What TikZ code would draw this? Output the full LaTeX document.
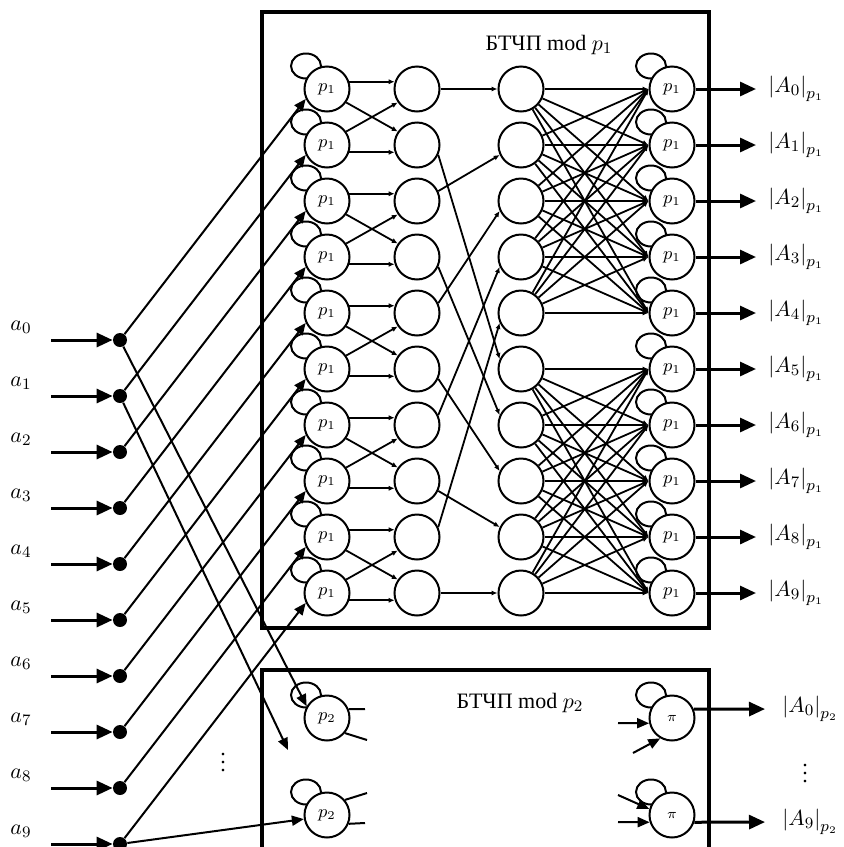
\documentclass[tikz,border=0pt]{standalone}
\usepackage{fontspec}
\setmainfont{Liberation Serif}
\usetikzlibrary{arrows.meta,positioning,calc}
\tikzset{
  unit/.style={circle, draw, line width=1pt, fill=white, inner sep=0pt, minimum size=22.5pt, font=\fontsize{9}{9}\selectfont},
  loopring/.style={line width=1pt},
  dot/.style={circle, fill=black, inner sep=0pt, minimum size=7pt},
  wire/.style={line width=0.9pt, -{Latex[length=3pt,width=2.6pt]}},
  feed/.style={line width=1pt, -{Triangle[length=6pt,width=5pt]}},
  bigarrow/.style={line width=1.5pt, -{Triangle[length=8pt,width=7pt]}},
  stub/.style={line width=1pt},
  frame/.style={line width=1.6pt},
  lbl/.style={font=\fontsize{11}{13}\selectfont, inner sep=0pt},
}
\newcommand{\ring}[2]{\draw[loopring] (#1-21,#2-23) ellipse [x radius=7.5pt, y radius=6.25pt];}

\begin{document}
\begin{tikzpicture}[x=0.5pt, y=-0.5pt]
  \useasboundingbox (0,0) rectangle (843,847);
  % blocks
  \draw[frame] (262,12) rectangle (709,628);
  \draw[frame] (262,860) -- (262,670) -- (709,670) -- (709,860);
  \node[lbl] (title1) at (549,45) {БТЧП mod $p_1$};
  \node[lbl] (title2) at (520,703) {БТЧП mod $p_2$};
  % block p1
  \foreach \i in {0,...,9}{
    \pgfmathsetmacro{\yy}{89+56*\i}
    \ring{327}{\yy}
    \ring{672}{\yy}
    \node[unit] (p-\i) at (327,\yy) {$p_1$};
    \node[unit] (h-\i) at (417,\yy) {};
    \node[unit] (g-\i) at (521,\yy) {};
    \node[unit] (q-\i) at (672,\yy) {$p_1$};
  }
  \foreach \i in {0,2,...,8}{
    \pgfmathtruncatemacro{\k}{\i+1}
    \draw[wire] (p-\i.18) -- (h-\i.162);
    \draw[wire] (p-\k.-18) -- (h-\k.198);
    \draw[wire] (p-\i.-35) -- (h-\k.145);
    \draw[wire] (p-\k.35) -- (h-\i.215);
  }
  \draw[wire] (h-0) -- (g-0);
  \draw[wire] (h-9) -- (g-9);
  \foreach \i in {2,4,6,8}{
    \pgfmathtruncatemacro{\j}{\i/2}
    \draw[wire] (h-\i.25) -- (g-\j.205);
  }
  \foreach \i in {1,3,5,7}{
    \pgfmathtruncatemacro{\j}{5+(\i-1)/2}
    \draw[wire] (h-\i.-25) -- (g-\j.155);
  }
  \foreach \g in {0,5}{
    \foreach \i in {0,...,4}{
      \foreach \j in {0,...,4}{
        \pgfmathtruncatemacro{\s}{\g+\i}
        \pgfmathtruncatemacro{\t}{\g+\j}
        \draw[wire] (g-\s) -- (q-\t.west);
      }
    }
  }
  \foreach \i in {0,...,9}{
    \node[lbl, anchor=west] (A-\i) at (768,89+56*\i) {$\left|A_{\i}\right|_{p_1}$};
    \draw[bigarrow, shorten >=6pt] (q-\i) -- (A-\i.west);
  }
  % block p2
  \ring{327}{718} \ring{327}{815}
  \ring{672}{718} \ring{672}{815}
  \node[unit] (bl-0) at (327,718) {$p_2$};
  \node[unit] (bl-1) at (327,815) {$p_2$};
  \node[unit, font=\fontsize{7}{7}\selectfont] (br-0) at (672,718) {$\pi$};
  \node[unit, font=\fontsize{7}{7}\selectfont] (br-1) at (672,815) {$\pi$};
  \coordinate (u0) at (365,709);
  \coordinate (u1) at (367,740);
  \coordinate (u2) at (365,823);
  \coordinate (u3) at (367,793);
  \draw[stub] (bl-0.22) -- (u0);
  \draw[stub] (bl-0.-40) -- (u1);
  \draw[stub] (bl-1.-22) -- (u2);
  \draw[stub] (bl-1.40) -- (u3);
  \coordinate (v0) at (618,723);
  \coordinate (v1) at (633,753);
  \coordinate (v2) at (618,822);
  \coordinate (v3) at (618,795);
  \draw[feed] (v0) -- (br-0.193);
  \draw[feed] (v1) -- (br-0.240);
  \draw[feed] (v2) -- (br-1.198);
  \draw[feed] (v3) -- (br-1.165);
  \node[lbl, anchor=west] (B-0) at (782,709) {$\left|A_0\right|_{p_2}$};
  \node[lbl, anchor=west] (B-9) at (782,822) {$\left|A_9\right|_{p_2}$};
  \draw[bigarrow, shorten >=8.5pt] (br-0.22) -- (B-0.west);
  \draw[bigarrow, shorten >=8.5pt] (br-1.-18) -- (B-9.west);
  \node[lbl] (vd1) at (223,757) {$\vdots$};
  \node[lbl] (vd2) at (805,768) {$\vdots$};
  % inputs
  \foreach \i in {0,...,9}{
    \pgfmathsetmacro{\yy}{340+56*\i}
    \node[lbl] (a-\i) at (21,\yy-13) {$a_{\i}$};
    \coordinate (s-\i) at (51,\yy);
    \node[dot] (d-\i) at (120,\yy) {};
    \draw[bigarrow] (s-\i) -- (d-\i);
    \draw[feed] (d-\i) -- (p-\i.205);
  }
  \coordinate (gap) at (288,750);
  \draw[feed] (d-0) -- (bl-0.150);
  \draw[feed] (d-1) -- (gap);
  \draw[feed] (d-9) -- (bl-1.190);
\end{tikzpicture}
\end{document}
